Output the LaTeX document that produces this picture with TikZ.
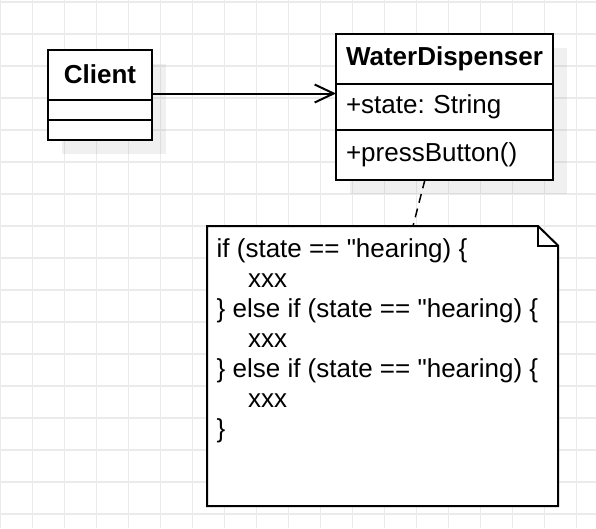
\documentclass[tikz,border=0pt]{standalone}
\usepackage{fontspec}
\newfontfamily\umlfont{Liberation Sans}
\usetikzlibrary{arrows.meta}

\tikzset{
  gridline/.style={line width=1.3pt, black!8},
  shadowbox/.style={fill=black, fill opacity=0.06},
  umltext/.style={font=\umlfont\fontsize{26pt}{30pt}\selectfont\frenchspacing},
  classhead/.style={draw, line width=2pt, fill=white, inner sep=0pt, outer sep=0pt, font=\umlfont\fontsize{26pt}{30pt}\selectfont\bfseries},
  classrow/.style={draw, line width=2pt, fill=white, inner sep=0pt, outer sep=0pt, inner xsep=10pt, align=left, umltext},
  assoc/.style={line width=2pt, -{Straight Barb[length=19pt,width=18pt]}},
  notelink/.style={line width=1.5pt, dash pattern=on 9pt off 6pt},
  notepath/.style={draw, line width=2pt, fill=white, line join=miter},
  notetext/.style={inner sep=0pt, align=left, umltext}
}

\begin{document}
\begin{tikzpicture}[x=1pt, y=-1pt]
\useasboundingbox (0,0) rectangle (596,528);
\fill[white] (0,0) rectangle (596,528);

% Grid
\foreach \x in {0,...,18} \draw[gridline] (32*\x+0.5,0) -- (32*\x+0.5,528);
\foreach \y in {0,...,16} \draw[gridline] (0,32*\y+2) -- (596,32*\y+2);

% Shadows
\fill[shadowbox] (62,63.5) rectangle (166,154);
\fill[shadowbox] (350,48) rectangle (567,193.5);

% Client
\node[classhead, minimum width=104pt, minimum height=50pt, anchor=north west] (client) at (48,49.5) {Client};
\node[classrow, minimum width=104pt, minimum height=20pt, anchor=north] (clientattr) at (client.south) {};
\node[classrow, minimum width=104pt, minimum height=20.5pt, anchor=north] (clientops) at (clientattr.south) {};

% WaterDispenser
\node[classhead, minimum width=217pt, minimum height=49.5pt, anchor=north west] (water) at (336,34) {WaterDispenser};
\node[classrow, text width=197pt, minimum height=46pt, anchor=north] (wdstate) at (water.south) {+state: String};
\node[classrow, text width=197pt, minimum height=50pt, anchor=north] (wdops) at (wdstate.south) {+pressButton()};

% Association
\draw[assoc] ([yshift=6pt]client.south east) -- ([yshift=13pt]wdstate.west);

% Note
\node[minimum width=351pt, minimum height=280pt, inner sep=0pt, outer sep=0pt, anchor=north west] (note) at (207,226) {};
\draw[notepath] (note.north west) -- ([xshift=-20pt]note.north east) -- ([yshift=-19.5pt]note.north east)
  -- (note.south east) -- (note.south west) -- cycle;
\draw[line width=2pt] ([xshift=-20pt]note.north east) -- ([shift={(-20pt,-19.5pt)}]note.north east) -- ([yshift=-19.5pt]note.north east);
\node[notetext, anchor=north west] (notebody) at ([shift={(9.5,12.2)}]note.north west) {%
if (state == "hearing) \{\\
\hspace*{31.5pt}xxx\\
\} else if (state == "hearing) \{\\
\hspace*{31.5pt}xxx\\
\} else if (state == "hearing) \{\\
\hspace*{31.5pt}xxx\\
\}};
\draw[notelink] ([xshift=-19.5pt]wdops.south) -- ([xshift=30.5pt]note.north);
\end{tikzpicture}
\end{document}
